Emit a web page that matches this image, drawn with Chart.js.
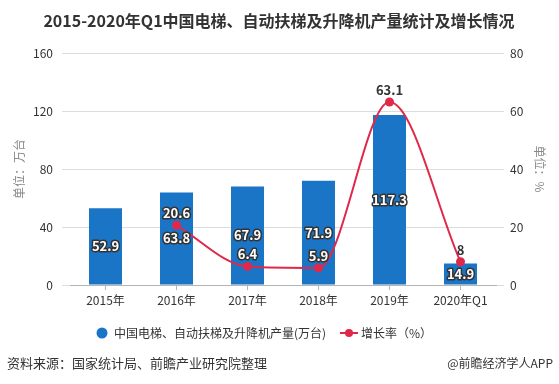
<!DOCTYPE html>
<html>
<head>
<meta charset="utf-8">
<script src="https://cdn.jsdelivr.net/npm/chart.js@4"></script>
<style>
  html, body { margin: 0; padding: 0; background: #fff; }
  #chart { display: block; }
</style>
</head>
<body>
<canvas id="chart" width="559" height="384"></canvas>
<script>
// chart data
const categories = ['2015年', '2016年', '2017年', '2018年', '2019年', '2020年Q1'];
const output = [52.9, 63.8, 67.9, 71.9, 117.3, 14.9];
const growth = [null, 20.6, 6.4, 5.9, 63.1, 8];
const leftTicks = [0, 40, 80, 120, 160];
const rightTicks = [0, 20, 40, 60, 80];

const titleText = '2015-2020年Q1中国电梯、自动扶梯及升降机产量统计及增长情况';
const barLabel = '中国电梯、自动扶梯及升降机产量(万台)';
const lineLabel = '增长率（%）';
const sourceText = '资料来源：国家统计局、前瞻产业研究院整理';
const brandText = '@前瞻经济学人APP';

const FONT = '"Noto Sans CJK SC", "Noto Sans", sans-serif';
const BLUE = '#1a75c6';
const RED = '#e0294a';

// draw value labels, title, legend and footer
const extras = {
    id: 'extras',
    afterDatasetsDraw(chart) {
        const ctx = chart.ctx;
        ctx.save();
        ctx.textAlign = 'center';
        ctx.textBaseline = 'middle';
        ctx.font = 'bold 13px ' + FONT;
        ctx.lineJoin = 'round';

        // bar labels: white with dark outline, centred in bar
        const barMeta = chart.getDatasetMeta(0);
        barMeta.data.forEach((bar, i) => {
            const y = (bar.y + bar.base) / 2;
            ctx.lineWidth = 3;
            ctx.strokeStyle = '#333';
            ctx.strokeText(String(output[i]), bar.x, y);
            ctx.fillStyle = '#fff';
            ctx.fillText(String(output[i]), bar.x, y);
        });

        // line labels above points
        const lineMeta = chart.getDatasetMeta(1);
        lineMeta.data.forEach((pt, i) => {
            if (growth[i] == null) return;
            const y = pt.y - 12;
            const bar = barMeta.data[i];
            const inside = y > bar.y + 4;
            if (inside) {
                ctx.lineWidth = 3;
                ctx.strokeStyle = '#333';
                ctx.strokeText(String(growth[i]), pt.x, y);
                ctx.fillStyle = '#fff';
            } else {
                ctx.fillStyle = '#333';
            }
            ctx.fillText(String(growth[i]), pt.x, y);
        });
        ctx.restore();
    },
    afterDraw(chart) {
        const ctx = chart.ctx;
        ctx.save();
        ctx.textBaseline = 'middle';

        // title
        ctx.fillStyle = '#333';
        ctx.textAlign = 'center';
        ctx.font = 'bold 16px ' + FONT;
        ctx.fillText(titleText, 279, 21);

        // legend
        const ly = 333;
        ctx.font = '12px ' + FONT;
        ctx.textAlign = 'left';
        ctx.fillStyle = BLUE;
        ctx.beginPath();
        ctx.arc(102, ly, 5.5, 0, Math.PI * 2);
        ctx.fill();
        ctx.fillStyle = '#333';
        ctx.fillText(barLabel, 114, ly);

        ctx.strokeStyle = RED;
        ctx.lineWidth = 2;
        ctx.beginPath();
        ctx.moveTo(340, ly);
        ctx.lineTo(358, ly);
        ctx.stroke();
        ctx.fillStyle = RED;
        ctx.beginPath();
        ctx.arc(349, ly, 4, 0, Math.PI * 2);
        ctx.fill();
        ctx.fillStyle = '#333';
        ctx.fillText(lineLabel, 361, ly);

        // footer
        ctx.font = '13px ' + FONT;
        ctx.fillText(sourceText, 7, 363);
        ctx.textAlign = 'right';
        ctx.font = '12px ' + FONT;
        ctx.fillText(brandText, 553, 363);
        ctx.restore();
    }
};

const ctx = document.getElementById('chart').getContext('2d');
const chart = new Chart(ctx, {
    data: {
        labels: categories,
        datasets: [{
            type: 'bar',
            label: barLabel,
            data: output,
            backgroundColor: BLUE,
            barPercentage: 0.465,
            categoryPercentage: 1.0,
            yAxisID: 'y',
            order: 2
        }, {
            type: 'line',
            label: lineLabel,
            data: growth,
            borderColor: RED,
            backgroundColor: RED,
            borderWidth: 2,
            pointRadius: 4.5,
            pointBackgroundColor: RED,
            pointBorderWidth: 0,
            cubicInterpolationMode: 'monotone',
            yAxisID: 'y1',
            order: 1
        }]
    },
    options: {
        responsive: false,
        animation: false,
        devicePixelRatio: 1,
        layout: {
            padding: { top: 53, bottom: 70, left: 0, right: 0 }
        },
        plugins: {
            legend: { display: false },
            title: { display: false },
            tooltip: { enabled: false }
        },
        scales: {
            x: {
                afterFit: s => { s.height = 29; },
                border: { color: '#b5b5b5' },
                grid: {
                    offset: false,
                    drawOnChartArea: false,
                    tickLength: 5,
                    color: '#b5b5b5'
                },
                ticks: {
                    font: { size: 12, family: FONT },
                    color: '#333',
                    padding: 3,
                    maxRotation: 0
                }
            },
            y: {
                position: 'left',
                min: 0,
                max: 160,
                afterFit: s => { s.width = 70; },
                afterBuildTicks: s => { s.ticks = leftTicks.map(v => ({ value: v })); },
                border: { display: false },
                grid: { color: '#dcdcdc', tickLength: 8 },
                ticks: {
                    font: { size: 12, family: FONT },
                    color: '#333',
                    padding: 9
                },
                title: {
                    display: true,
                    text: '单位：万台',
                    color: '#888',
                    font: { size: 12, family: FONT },
                    padding: { top: 12, bottom: 0 }
                }
            },
            y1: {
                position: 'right',
                min: 0,
                max: 80,
                afterFit: s => { s.width = 63; },
                afterBuildTicks: s => { s.ticks = rightTicks.map(v => ({ value: v })); },
                border: { display: false },
                grid: { color: '#dcdcdc', tickLength: 8, drawOnChartArea: false },
                ticks: {
                    font: { size: 12, family: FONT },
                    color: '#333',
                    padding: 6
                },
                title: {
                    display: true,
                    text: '单位：%',
                    color: '#888',
                    font: { size: 12, family: FONT },
                    padding: { top: 12, bottom: 0 }
                }
            }
        }
    },
    plugins: [extras]
});
</script>
</body>
</html>
